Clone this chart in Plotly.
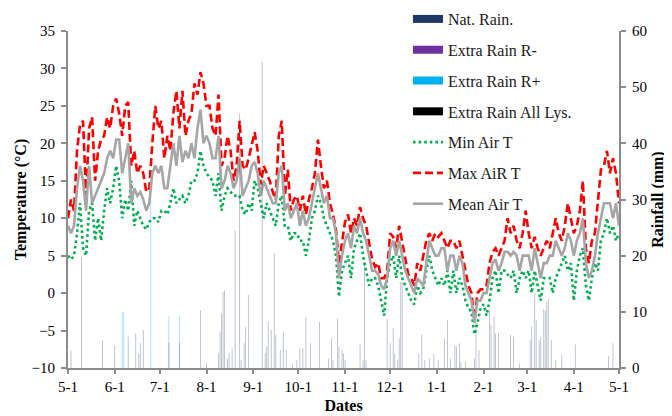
import pandas as pd
import plotly.graph_objects as go

# ---------------- data ----------------
start_date = "2015-05-01"
step_days = 2  # temperature samples every 2 days

max_t = [10, 12.5, 11, 19, 22.5, 23, 13, 22, 23.5, 15, 19, 20.5, 21, 23.5, 22, 25, 26, 24, 21, 25,
         25.5, 17, 19, 16, 17, 16, 13.5, 14, 20, 25, 22, 23, 18, 21, 19, 24, 27, 22, 27, 21,
         23, 24, 28, 26.5, 29.5, 28, 25, 25, 22, 21, 26.5, 17, 18, 21, 19, 15, 17, 23, 17, 16.5,
         18, 20, 21.5, 19, 14.5, 17, 16, 15, 13.5, 12.5, 21, 23, 13, 16.5, 11, 12.5, 13, 11, 13, 10.5,
         12.5, 14, 16, 20.5, 17, 14, 15, 12, 10.5, 8.5, 4, 7, 9.5, 10.5, 8, 10, 9, 11.5, 10, 9,
         7, 4.5, 3.5, 4, 2, 2, 3, 8, 7.5, 6, 9, 7, 5, 2.5, 2, 1, 4, 3, 5, 7,
         8, 7, 8, 7.5, 8, 7, 6, 7, 7, 6, 7, 5, 3, 1, 0, -3.5, 0, 0.5, 0.5, 1,
         4, 5.5, 6, 5, 6, 7, 10, 8, 9, 7, 6, 8, 11, 8, 6, 7.5, 6, 5, 6, 7,
         6, 8, 10, 8, 7, 9, 12, 10, 8, 9, 11, 15, 6, 4, 7, 8, 12, 16.5, 17, 19,
         16, 18, 16, 12]

mean_t = [9, 8, 9, 14, 17, 15, 11, 17, 12, 13, 14, 15, 16, 18, 19, 18, 20.5, 20.5, 16, 18,
          20, 12, 14, 13, 13.5, 12.5, 11, 12, 16, 17, 16, 17, 14, 14, 17, 20, 17, 21, 17.5, 19,
          18, 20, 18, 22, 24.5, 20, 21, 20, 18, 18, 21, 14, 15, 17, 16, 14, 15, 18, 13, 14,
          15, 17, 17.5, 16, 13, 15, 14, 13, 12, 12, 16, 17, 11, 12, 10, 11, 12, 9, 11, 9,
          10, 12, 14, 16, 14, 12, 13, 10, 10, 8, 2, 5, 7, 8, 6, 9, 8, 10, 8, 7,
          5, 3, 3, 2.5, 1, 0.5, 2, 6, 7, 5, 7, 5, 3, 2, 1, 0, 2, 1.5, 1, 4,
          7, 6, 5, 5, 6, 6, 3, 5, 5, 3, 5, 4, 1, 0, -1, -4, -1, -1, 0, 0,
          2, 4, 4.5, 3, 4, 5.5, 5.5, 5, 5.5, 5, 3, 5, 5, 5, 3, 6, 4, 2, 4, 4,
          5, 5, 7, 6, 5, 6, 8, 7, 5, 7, 8, 10, 4, 2, 3, 5, 8, 10, 12, 12,
          12, 10, 12, 9]

min_t = [5, 4.5, 5, 8, 12, 6, 5, 11, 12, 7, 10, 7, 11, 14, 12, 14, 17, 15, 10, 12.5,
         11, 15, 9, 11, 10, 9, 8.5, 9.5, 10, 10, 9.5, 11, 11, 10.5, 12, 14, 12, 12.5, 13, 12,
         13, 15, 15, 16, 19, 17, 16, 15.5, 15, 13, 16, 11, 13, 14, 13.5, 13, 13, 13, 11, 10.5,
         12, 11, 15, 14, 12, 10, 12, 11, 10, 9, 12, 13, 9, 9, 7, 8, 8, 7, 7, 5,
         7, 10, 11, 13, 12, 10, 9, 8, 7, 5, -0.5, 3, 4, 5, 2, 6, 7, 8, 5, 3,
         1, 2, 2, 1, -1, -3, 2, 4, 5, 2, 5, 2, 1, 0, -1, -1.5, 1, 0, 0.5, 3,
         5, 3, 2, 1, 2, 1, 3, 0, 3, 0, 2, 1, -1, -2, -2.5, -5.5, -4, -2, -1.5, -3,
         -1, 2, 3, 0, 3, 3, 2.5, 2, 3, 0, 2, 3, 2, 3, 0, 3, 1, -1, 2, 2,
         2, 0, 2, 3, 4, 5, 3, 4, -1, 3, 5, 6, 1, -1, 2, 4, 3, 7, 8, 10,
         8, 9, 7, 8]

# natural rainfall: day offset from start, mm
rain_day = [2, 9, 23, 31, 40, 45, 47, 48, 50, 67, 74, 88, 92, 100, 101, 102, 103, 104, 106, 107,
            109, 111, 114, 115, 117, 118, 120, 129, 131, 132, 133, 135, 137, 138, 141, 143, 145, 149, 152, 154,
            156, 158, 161, 167, 173, 175, 176, 179, 180, 182, 183, 184, 194, 196, 197, 198, 212, 214, 216, 217,
            219, 220, 221, 222, 233, 235, 237, 240, 243, 246, 250, 252, 254, 257, 258, 260, 261, 264, 270, 271,
            273, 280, 281, 283, 284, 286, 294, 296, 300, 307, 308, 310, 311, 313, 314, 316, 317, 318, 319, 321,
            324, 328, 337, 359, 362]
rain_mm = [3.1, 19.8, 5.0, 4.0, 5.6, 6.2, 2.6, 4.4, 6.8, 4.5, 4.5, 10.3, 1.0, 2.6, 6.5, 9.7, 13.5, 13.8, 1.7, 2.6,
           3.5, 24.5, 45.3, 1.4, 4.4, 7.3, 13.0, 54.5, 2.6, 3.8, 8.3, 6.8, 20.4, 5.9, 3.2, 6.5, 3.2, 0.8, 1.4, 3.5,
           3.5, 9.1, 4.4, 8.2, 1.7, 5.3, 1.4, 8.8, 3.8, 3.2, 2.6, 1.4, 4.2, 1.4, 18.6, 1.4, 8.8, 4.4, 7.1, 2.6,
           1.4, 5.3, 15.3, 15.3, 2.6, 5.9, 1.4, 1.7, 2.6, 1.4, 5.3, 8.5, 1.7, 4.0, 3.8, 4.4, 1.1, 1.1, 1.7, 8.0,
           3.2, 10.3, 7.7, 9.2, 6.2, 6.2, 5.9, 5.6, 0.8, 5.0, 7.4, 13.3, 8.5, 5.0, 5.6, 10.5, 10.2, 11.7, 12.3, 5.0,
           1.4, 2.3, 4.2, 2.1, 4.4]

# extra rain R+
rplus_day = [36, 37, 55, 67, 74]
rplus_mm = [10.0, 10.0, 30.0, 9.2, 9.2]

month_ticks = ["2015-05-01", "2015-06-01", "2015-07-01", "2015-08-01", "2015-09-01", "2015-10-01",
               "2015-11-01", "2015-12-01", "2016-01-01", "2016-02-01", "2016-03-01", "2016-04-01",
               "2016-05-01"]
month_labels = ["5-1", "6-1", "7-1", "8-1", "9-1", "10-1", "11-1", "12-1", "1-1", "2-1", "3-1", "4-1", "5-1"]

# ---------------- build ----------------
t0 = pd.Timestamp(start_date)
temp_dates = [t0 + pd.Timedelta(days=step_days * i) for i in range(len(max_t))]
rain_dates = [t0 + pd.Timedelta(days=d) for d in rain_day]
rplus_dates = [t0 + pd.Timedelta(days=d) for d in rplus_day]

FONT = "Liberation Serif"
bar_w = 0.55 * 86400000

fig = go.Figure()

# real bars (legend handled by swatch traces)
fig.add_trace(go.Bar(x=rplus_dates, y=rplus_mm, yaxis="y2", width=bar_w,
                     marker=dict(color="rgba(0,176,240,0.4)", line=dict(width=0)),
                     showlegend=False, hoverinfo="x+y"))
fig.add_trace(go.Bar(x=rain_dates, y=rain_mm, yaxis="y2", width=bar_w,
                     marker=dict(color="rgba(31,56,100,0.35)", line=dict(width=0)),
                     showlegend=False, hoverinfo="x+y"))

# legend swatches for the rain series
legend_bars = [("Nat. Rain.", "#1f3864"), ("Extra Rain R-", "#7030a0"),
               ("Extra Rain R+", "#00b0f0"), ("Extra Rain All Lys.", "#000000")]
for i, (name, col) in enumerate(legend_bars):
    fig.add_trace(go.Scatter(x=[None], y=[None], mode="lines", name=name,
                             line=dict(color=col, width=8), legendgroup=f"g{i}",
                             legendrank=i + 1))

fig.add_trace(go.Scatter(x=temp_dates, y=min_t, mode="lines", name="Min Air T",
                         line=dict(color="#00b050", width=2.6, dash="2.6px,3px"),
                         legendgroup="g4", legendrank=5))
fig.add_trace(go.Scatter(x=temp_dates, y=max_t, mode="lines", name="Max AiR T",
                         line=dict(color="#ff0000", width=2.6, dash="8px,4px"),
                         legendgroup="g5", legendrank=6))
fig.add_trace(go.Scatter(x=temp_dates, y=mean_t, mode="lines", name="Mean Air T",
                         line=dict(color="#a6a6a6", width=2.6),
                         legendgroup="g6", legendrank=7))

axis_col = "#8c8c8c"
fig.update_layout(
    width=672, height=416,
    margin=dict(l=60, r=61, t=23, b=56, autoexpand=False),
    paper_bgcolor="white", plot_bgcolor="white",
    font=dict(family=FONT, size=15, color="black"),
    barmode="overlay",
    showlegend=True,
    legend=dict(x=0.617, y=1.086, xanchor="left", yanchor="top",
                bgcolor="rgba(0,0,0,0)", font=dict(family=FONT, size=16, color="#1a1a1a"),
                traceorder="grouped", tracegroupgap=7, itemwidth=30, maxheight=400),
    xaxis=dict(type="date", range=[month_ticks[0], month_ticks[-1]],
               tickvals=month_ticks, ticktext=month_labels,
               showgrid=False, zeroline=False,
               showline=True, linecolor=axis_col, linewidth=2,
               ticks="outside", ticklen=4, tickcolor=axis_col, tickwidth=1.5,
               tickfont=dict(family=FONT, size=15),
               title=dict(text="<b>Dates</b>", font=dict(family=FONT, size=16), standoff=6)),
    yaxis=dict(range=[-10, 35], dtick=5, tick0=-10,
               showgrid=False, zeroline=False,
               showline=True, linecolor=axis_col, linewidth=2,
               ticks="outside", ticklen=5, tickcolor=axis_col, tickwidth=1.5,
               ticklabelstandoff=3,
               tickfont=dict(family=FONT, size=15),
               title=dict(text="<b>Temperature (°C)</b>", font=dict(family=FONT, size=16), standoff=1)),
    yaxis2=dict(range=[0, 60], dtick=10, overlaying="y", side="right",
                showgrid=False, zeroline=False,
                showline=True, linecolor=axis_col, linewidth=2,
                ticks="outside", ticklen=5, tickcolor=axis_col, tickwidth=1.5,
                ticklabelstandoff=3,
                tickfont=dict(family=FONT, size=15),
                title=dict(text="<b>Rainfall (mm)</b>", font=dict(family=FONT, size=16), standoff=6)),
)

fig.write_html("out.html")
